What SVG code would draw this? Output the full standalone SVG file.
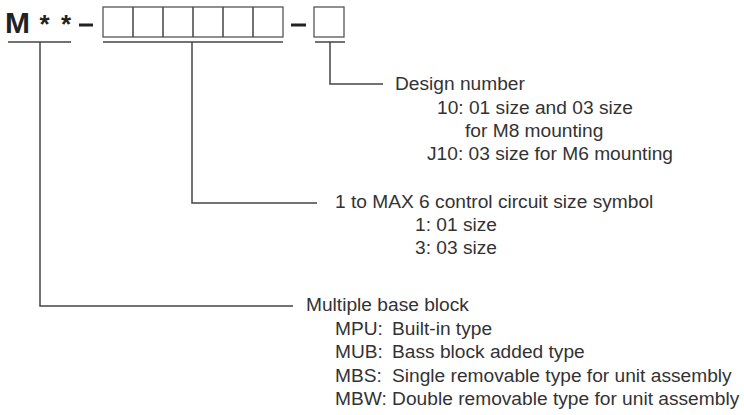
<svg xmlns="http://www.w3.org/2000/svg" width="744" height="415" viewBox="0 0 744 415">
<style>
.t{font-family:"Liberation Sans",Arial,sans-serif;font-size:17.5px;fill:#333}
.h{font-family:"Liberation Sans",Arial,sans-serif;font-weight:bold;fill:#222}
.ln{stroke:#444;stroke-width:1.5;fill:none}
.bx{stroke:#555;stroke-width:1.3;fill:#fff}
</style>
<rect width="744" height="415" fill="#fff"/>
<g id="code">
<text class="h" x="5" y="33" font-size="30">M</text>
<text class="h" x="44.5" y="33" font-size="26" text-anchor="middle">*</text>
<text class="h" x="66" y="33" font-size="26" text-anchor="middle">*</text>
<rect x="79" y="23.5" width="14" height="3" fill="#222"/>
<rect class="bx" x="103" y="7" width="180" height="30"/>
<path class="ln" d="M133 7V37M163 7V37M193 7V37M223 7V37M253 7V37" stroke="#555" stroke-width="1.3"/>
<rect x="291" y="23.5" width="15" height="3" fill="#222"/>
<rect class="bx" x="314" y="7" width="30" height="30"/>
<path class="ln" d="M8 42H71M103 42H283M315 42H345"/>
</g>
<g id="connectors">
<path class="ln" d="M330 42V84H383"/>
<path class="ln" d="M192 42V203H317"/>
<path class="ln" d="M40 42V306H293"/>
</g>
<g id="design-number">
<text class="t" transform="translate(395,90) scale(1.095,1)">Design number</text>
<text class="t" transform="translate(437,114) scale(1.095,1)">10: 01 size and 03 size</text>
<text class="t" transform="translate(465,137) scale(1.095,1)">for M8 mounting</text>
<text class="t" transform="translate(427,160) scale(1.095,1)">J10: 03 size for M6 mounting</text>
</g>
<g id="control-size">
<text class="t" transform="translate(335,208) scale(1.095,1)">1 to MAX 6 control circuit size symbol</text>
<text class="t" transform="translate(415,231) scale(1.095,1)">1: 01 size</text>
<text class="t" transform="translate(415,254) scale(1.095,1)">3: 03 size</text>
</g>
<g id="base-block">
<text class="t" transform="translate(306,311) scale(1.095,1)">Multiple base block</text>
<text class="t" transform="translate(335,335) scale(1.095,1)">MPU:</text>
<text class="t" transform="translate(392,335) scale(1.095,1)">Built-in type</text>
<text class="t" transform="translate(335,358) scale(1.095,1)">MUB:</text>
<text class="t" transform="translate(392,358) scale(1.095,1)">Bass block added type</text>
<text class="t" transform="translate(335,382) scale(1.095,1)">MBS:</text>
<text class="t" transform="translate(392,382) scale(1.095,1)">Single removable type for unit assembly</text>
<text class="t" transform="translate(335,405) scale(1.095,1)">MBW: Double removable type for unit assembly</text>
</g>
</svg>
